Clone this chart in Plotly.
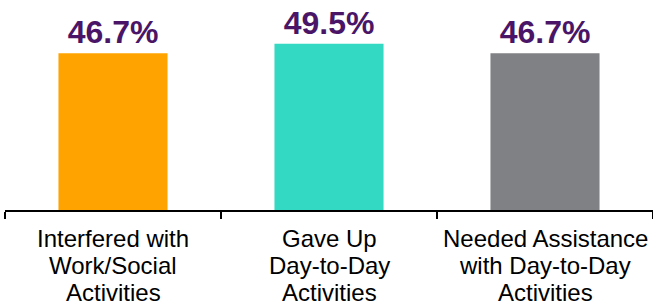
import plotly.graph_objects as go

categories = ["Interfered with Work/Social Activities",
              "Gave Up Day-to-Day Activities",
              "Needed Assistance with Day-to-Day Activities"]
label_lines = [["Interfered with", "Work/Social", "Activities"],
               ["Gave Up", "Day-to-Day", "Activities"],
               ["Needed Assistance", "with Day-to-Day", "Activities"]]
values = [46.7, 49.5, 46.7]
labels = ["46.7%", "49.5%", "46.7%"]
colors = ["#FFA300", "#33D9C3", "#808184"]

FONT = "Liberation Sans, Arial, sans-serif"

fig = go.Figure(go.Bar(
    x=categories, y=values, marker_color=colors, marker_line_width=0,
    text=labels, textposition="outside", cliponaxis=False,
    textfont=dict(family=FONT, size=32, color="#4A1566", weight="bold"),
    hoverinfo="skip",
))

line_shifts = [-12.5, -40.0, -67.0]
for cat, lines in zip(categories, label_lines):
    for line, shift in zip(lines, line_shifts):
        fig.add_annotation(x=cat, y=0, xref="x", yref="y", text=line,
                           showarrow=False, yanchor="top", xanchor="center",
                           yshift=shift, font=dict(family=FONT, size=24, color="#000000"))

fig.update_layout(
    width=653, height=303,
    margin=dict(l=5, r=0, t=0, b=93),
    paper_bgcolor="white", plot_bgcolor="white",
    bargap=0.495, showlegend=False,
    font=dict(family=FONT, size=21, color="#000000"),
)
fig.update_xaxes(showline=True, linecolor="#000000", linewidth=2,
                 ticks="outside", tickson="boundaries", ticklen=7, tickwidth=2,
                 tickcolor="#000000", showgrid=False, showticklabels=False,
                 automargin=False)
fig.update_yaxes(range=[0, 62.55], visible=False, showgrid=False, automargin=False)
fig.write_html("out.html", config={"displayModeBar": False},
               post_script="document.body.style.margin='0';document.body.style.overflow='hidden';")
